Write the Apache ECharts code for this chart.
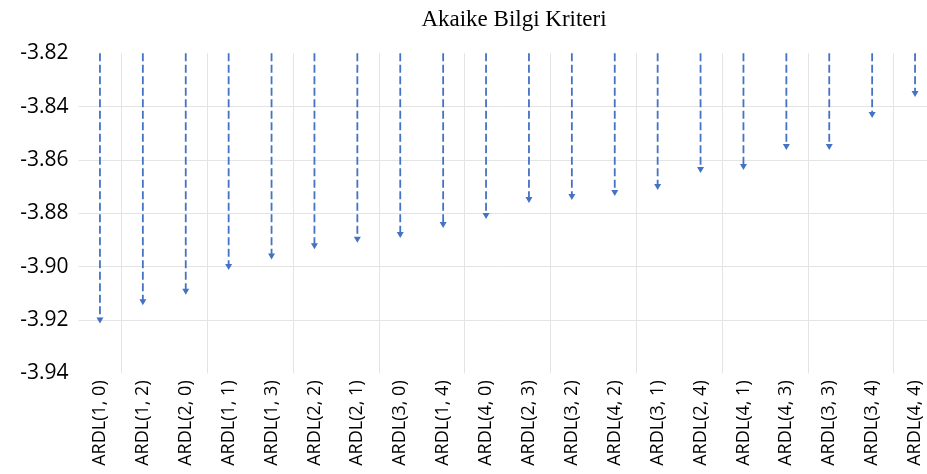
<!DOCTYPE html>
<html>
<head>
<meta charset="utf-8">
<script src="https://cdn.jsdelivr.net/npm/echarts@6/dist/echarts.min.js"></script>
<style>
html,body{margin:0;padding:0;background:#fff;}
#chart{width:927px;height:474px;}
</style>
</head>
<body>
<div id="chart"></div>
<script>
const titleText = 'Akaike Bilgi Kriteri';
const categories = ['ARDL(1, 0)','ARDL(1, 2)','ARDL(2, 0)','ARDL(1, 1)','ARDL(1, 3)','ARDL(2, 2)','ARDL(2, 1)','ARDL(3, 0)','ARDL(1, 4)','ARDL(4, 0)','ARDL(2, 3)','ARDL(3, 2)','ARDL(4, 2)','ARDL(3, 1)','ARDL(2, 4)','ARDL(4, 1)','ARDL(4, 3)','ARDL(3, 3)','ARDL(3, 4)','ARDL(4, 4)'];
const aicValues = [-3.9213,-3.9145,-3.9105,-3.9013,-3.8973,-3.8935,-3.8910,-3.8893,-3.8855,-3.8821,-3.8761,-3.8750,-3.8735,-3.8713,-3.8649,-3.8638,-3.8563,-3.8563,-3.8443,-3.8364];
const baseValue = -3.82;
const yMin = -3.94, yMax = -3.82, yStep = 0.02;

const chart = echarts.init(document.getElementById('chart'));
const lineColor = '#4472C4';
chart.setOption({
  animation: false,
  backgroundColor: '#fff',
  title: {
    text: titleText,
    left: 509, top: 3, textAlign: 'center',
    textStyle: {fontFamily: 'Liberation Serif', fontSize: 23, fontWeight: 'normal', color: '#000'}
  },
  grid: {left: 78.5, right: -9.5, top: 53.3, bottom: 100.7, outerBoundsMode: 'none'},
  xAxis: {
    type: 'category', data: categories, boundaryGap: true,
    axisLine: {show: false}, axisTick: {show: false},
    axisLabel: {rotate: 90, margin: 7, fontFamily: 'Open Sans', fontSize: 18, color: '#000', interval: 0},
    splitLine: {show: true, interval: function(i){ return i % 2 === 1; }, lineStyle: {color: '#e4e4e4', width: 1}}
  },
  yAxis: {
    type: 'value', min: yMin, max: yMax, interval: yStep,
    axisLine: {show: false}, axisTick: {show: false},
    axisLabel: {margin: 10, fontFamily: 'Open Sans', fontSize: 21, color: '#000', formatter: v => v.toFixed(2)},
    splitLine: {show: true, showMinLine: false, showMaxLine: false, lineStyle: {color: '#e4e4e4', width: 1}}
  },
  series: [{
    type: 'custom',
    silent: true,
    data: aicValues.map((v, i) => [i, v]),
    renderItem: function(params, api) {
      const i = api.value(0);
      const top = api.coord([i, baseValue]);
      const end = api.coord([i, api.value(1)]);
      const ah = 6, aw = 3.5;
      return {
        type: 'group',
        children: [
          {type: 'line', shape: {x1: top[0], y1: top[1], x2: end[0], y2: end[1] - ah + 1},
           style: {stroke: lineColor, lineWidth: 1.8, lineDash: [8, 3.5]}},
          {type: 'polygon', shape: {points: [[end[0] - aw, end[1] - ah], [end[0] + aw, end[1] - ah], [end[0], end[1]]]},
           style: {fill: lineColor}}
        ]
      };
    }
  }]
});
</script>
</body>
</html>
